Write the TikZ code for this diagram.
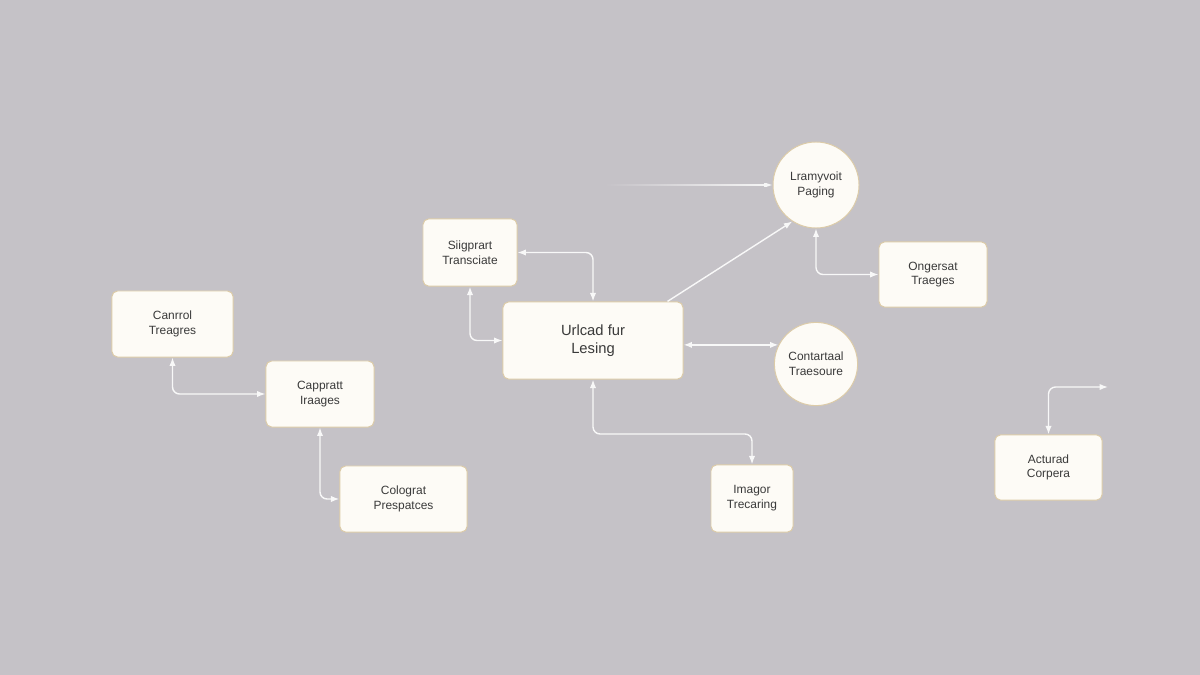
\documentclass[tikz,border=0pt]{standalone}
\usepackage{fontspec}
\setmainfont{Liberation Sans}
\usetikzlibrary{positioning, shapes, arrows.meta, fadings}

\definecolor{bggray}{HTML}{C5C2C7}
\definecolor{boxfill}{HTML}{FDFBF6}
\definecolor{boxline}{HTML}{DCCBA8}
\definecolor{linkwhite}{HTML}{F8F8F8}
\definecolor{txtgray}{HTML}{3A3A3A}

\begin{document}
\begin{tikzpicture}[x=0.025cm, y=-0.025cm, >={Latex[length=6pt,width=4.5pt]},
        box/.style={rectangle, rounded corners=4pt, draw=boxline, fill=boxfill, line width=0.7pt, text=txtgray, align=center, font=\fontsize{8.5}{10.5}\selectfont},
        ring/.style={circle, draw=boxline, fill=boxfill, line width=0.7pt, text=txtgray, align=center, inner sep=0pt, font=\fontsize{8.5}{10.5}\selectfont},
        link/.style={draw=linkwhite, line width=1pt, <->, rounded corners=5pt},
        vh/.style={to path={|- (\tikztotarget)}},
        hv/.style={to path={-| (\tikztotarget)}}]

        \fill[bggray] (0,0) rectangle (1200,675);
        \useasboundingbox (0,0) rectangle (1200,675);

        \node at (172.5, 324) [box, minimum width=3.03cm, minimum height=1.65cm] (canr) {Canrrol\\Treagres};
        \node at (320, 394) [box, minimum width=2.7cm, minimum height=1.65cm] (capp) {Cappratt\\Iraages};
        \node at (403.5, 499) [box, minimum width=3.18cm, minimum height=1.65cm] (colo) {Colograt\\Prespatces};

        \node at (470, 252.5) [box, minimum width=2.35cm, minimum height=1.68cm] (sigp) {Siigprart\\Transciate};
        \node at (593, 340.5) [box, minimum width=4.5cm, minimum height=1.93cm, font=\fontsize{10.5}{12.5}\selectfont] (urlc) {Urlcad fur\\Lesing};

        \node at (816, 185) [ring, minimum size=2.15cm] (lram) {Lramyvoit\\Paging};
        \node at (933, 274.5) [box, minimum width=2.7cm, minimum height=1.63cm] (onge) {Ongersat\\Traeges};
        \node at (816, 364) [ring, minimum size=2.08cm] (cont) {Contartaal\\Traesoure};

        \node at (752, 498.5) [box, minimum width=2.05cm, minimum height=1.68cm] (imag) {Imagor\\Trecaring};
        \node at (1048.5, 467.5) [box, minimum width=2.68cm, minimum height=1.63cm] (actu) {Acturad\\Corpera};

        \coordinate (feed) at (605, 185);
        \coordinate (actout) at (1108, 387);
        \coordinate (bend) at (0, 434);

        \draw   (canr.south)    edge[link, vh]      (capp.west)
                (capp.south)    edge[link, vh]      (colo.west)
                (sigp.east)     edge[link, hv]      (urlc.north)
                (sigp.south)    edge[link, vh]      (urlc.west)
                ([xshift=-0.4cm]urlc.north east) edge[link, ->] (lram.237)
                (lram.south)    edge[link, vh]      (onge.west)
                (urlc.east |- cont.153) edge[link]  (cont.153)
                (actout)        edge[link, hv]      (actu.north)
            ;
        \draw[link] (urlc.south) |- (bend -| imag.north) -- (imag.north);
        % incoming line fades in from the left
        \draw[link, ->, path fading=west] (feed) -- (lram.west);

    \end{tikzpicture}
\end{document}
